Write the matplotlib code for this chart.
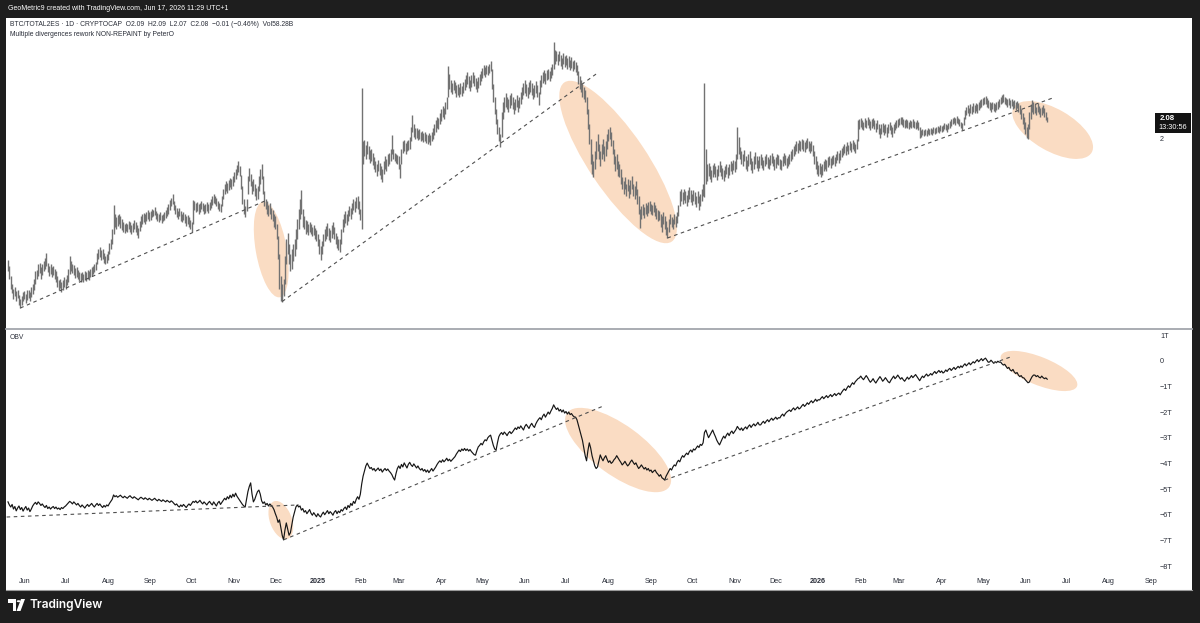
import numpy as np
import pandas as pd
import matplotlib
matplotlib.use("Agg")
import matplotlib.pyplot as plt
import matplotlib.dates as mdates
from matplotlib.patches import Ellipse, Rectangle, Polygon, Circle
from matplotlib.lines import Line2D
from matplotlib.transforms import ScaledTranslation, blended_transform_factory

plt.rcParams['font.family'] = ['Liberation Sans', 'DejaVu Sans']

# ---------------- data ----------------
start_date = "2024-05-20"          # first daily bar
last_close = 2.08
header_main = "BTC/TOTAL2ES \u00b7 1D \u00b7 CRYPTOCAP  O2.09  H2.09  L2.07  C2.08  \u22120.01 (\u22120.46%)  Vol58.28B"
header_ind = "Multiple divergences rework NON-REPAINT by PeterO"
title_bar = "GeoMetric9 created with TradingView.com, Jun 17, 2026 11:29 UTC+1"
countdown = "13:30:56"

# daily (low, high) of BTC/TOTAL2ES
bars_low_high = [
 (1.470,1.516),(1.440,1.490),(1.400,1.452),(1.385,1.420),(1.360,1.400),(1.372,1.410),(1.350,1.392),(1.362,1.398),(1.335,1.378),(1.324,1.360),
 (1.335,1.372),(1.350,1.388),(1.360,1.392),(1.345,1.380),(1.355,1.395),(1.365,1.398),(1.352,1.390),(1.368,1.410),(1.380,1.420),(1.395,1.440),
 (1.420,1.470),(1.440,1.476),(1.450,1.500),(1.462,1.504),(1.440,1.488),(1.456,1.498),(1.470,1.510),(1.480,1.522),(1.490,1.544),(1.466,1.505),
 (1.452,1.490),(1.460,1.498),(1.448,1.486),(1.455,1.492),(1.442,1.480),(1.430,1.470),(1.410,1.450),(1.395,1.436),(1.404,1.440),(1.390,1.430),
 (1.398,1.436),(1.408,1.446),(1.400,1.440),(1.415,1.455),(1.430,1.480),(1.460,1.532),(1.470,1.512),(1.462,1.500),(1.455,1.495),(1.445,1.485),
 (1.448,1.486),(1.440,1.476),(1.432,1.468),(1.428,1.462),(1.436,1.468),(1.430,1.460),(1.438,1.470),(1.432,1.466),(1.440,1.474),(1.436,1.470),
 (1.446,1.480),(1.450,1.486),(1.458,1.490),(1.468,1.500),(1.474,1.508),(1.500,1.545),(1.520,1.560),(1.526,1.566),(1.515,1.556),(1.520,1.560),
 (1.505,1.545),(1.498,1.532),(1.505,1.540),(1.516,1.552),(1.540,1.584),(1.560,1.600),(1.580,1.640),(1.620,1.736),(1.650,1.700),(1.640,1.688),
 (1.652,1.694),(1.660,1.700),(1.645,1.690),(1.636,1.680),(1.628,1.668),(1.624,1.660),(1.632,1.665),(1.628,1.660),(1.640,1.672),(1.630,1.668),
 (1.620,1.656),(1.628,1.664),(1.640,1.676),(1.630,1.668),(1.615,1.655),(1.604,1.645),(1.632,1.672),(1.650,1.690),(1.660,1.700),(1.668,1.704),
 (1.660,1.698),(1.672,1.708),(1.680,1.714),(1.670,1.706),(1.676,1.712),(1.686,1.718),(1.690,1.716),(1.694,1.728),(1.680,1.712),(1.672,1.704),
 (1.668,1.698),(1.676,1.706),(1.664,1.696),(1.670,1.700),(1.676,1.708),(1.684,1.716),(1.692,1.726),(1.700,1.740),(1.715,1.755),(1.730,1.764),
 (1.740,1.780),(1.716,1.752),(1.700,1.736),(1.688,1.724),(1.680,1.712),(1.690,1.722),(1.672,1.710),(1.666,1.700),(1.676,1.708),(1.664,1.698),
 (1.654,1.690),(1.660,1.694),(1.650,1.686),(1.640,1.676),(1.628,1.668),(1.660,1.756),(1.716,1.752),(1.706,1.742),(1.712,1.746),(1.700,1.738),
 (1.708,1.742),(1.718,1.750),(1.710,1.744),(1.700,1.736),(1.704,1.740),(1.712,1.746),(1.702,1.738),(1.714,1.748),(1.724,1.760),(1.736,1.770),
 (1.744,1.780),(1.738,1.772),(1.730,1.762),(1.720,1.752),(1.712,1.744),(1.706,1.740),(1.730,1.770),(1.760,1.800),(1.780,1.820),(1.790,1.830),
 (1.782,1.824),(1.796,1.836),(1.806,1.844),(1.800,1.840),(1.812,1.852),(1.826,1.866),(1.840,1.880),(1.856,1.896),(1.868,1.910),(1.850,1.892),
 (1.800,1.856),(1.740,1.810),(1.700,1.760),(1.688,1.730),(1.710,1.760),(1.780,1.850),(1.830,1.886),(1.810,1.860),(1.780,1.830),(1.790,1.840),
 (1.770,1.820),(1.756,1.804),(1.760,1.812),(1.790,1.850),(1.820,1.880),(1.840,1.898),(1.780,1.850),(1.730,1.790),(1.720,1.760),(1.700,1.750),
 (1.690,1.736),(1.700,1.744),(1.680,1.724),(1.670,1.716),(1.650,1.700),(1.640,1.690),(1.600,1.660),(1.520,1.610),(1.400,1.540),(1.350,1.450),
 (1.348,1.420),(1.370,1.440),(1.420,1.530),(1.500,1.600),(1.540,1.624),(1.500,1.580),(1.470,1.540),(1.480,1.560),(1.510,1.580),(1.530,1.600),
 (1.560,1.640),(1.600,1.680),(1.640,1.720),(1.680,1.760),(1.700,1.796),(1.650,1.720),(1.640,1.690),(1.620,1.676),(1.630,1.672),(1.616,1.660),
 (1.628,1.668),(1.620,1.660),(1.610,1.650),(1.616,1.656),(1.600,1.646),(1.590,1.636),(1.570,1.620),(1.540,1.600),(1.516,1.570),(1.540,1.590),
 (1.570,1.620),(1.590,1.640),(1.600,1.652),(1.610,1.664),(1.596,1.644),(1.588,1.636),(1.604,1.656),(1.620,1.666),(1.600,1.650),(1.580,1.624),
 (1.565,1.610),(1.555,1.600),(1.548,1.600),(1.580,1.640),(1.630,1.680),(1.650,1.700),(1.664,1.712),(1.656,1.700),(1.672,1.716),(1.690,1.730),
 (1.680,1.724),(1.700,1.744),(1.716,1.760),(1.706,1.750),(1.724,1.768),(1.720,1.772),(1.700,1.750),(1.676,1.720),(1.640,2.204),(1.900,1.990),
 (1.930,1.996),(1.920,1.976),(1.940,1.990),(1.920,1.970),(1.904,1.956),(1.910,1.960),(1.896,1.944),(1.880,1.928),(1.866,1.912),(1.850,1.900),
 (1.870,1.916),(1.856,1.904),(1.840,1.890),(1.828,1.880),(1.860,1.910),(1.880,1.930),(1.870,1.920),(1.890,1.940),(1.900,1.944),(1.910,1.960),
 (1.940,2.016),(1.920,1.960),(1.910,1.944),(1.904,1.940),(1.900,1.936),(1.880,1.930),(1.844,1.900),(1.900,1.960),(1.944,1.990),(1.950,1.996),
 (1.940,1.984),(1.950,1.990),(1.956,1.996),(1.960,2.010),(1.990,2.050),(2.030,2.096),(2.010,2.060),(2.000,2.046),(2.004,2.044),(1.996,2.036),
 (2.000,2.040),(1.990,2.030),(1.996,2.034),(1.986,2.026),(1.990,2.030),(1.984,2.022),(1.980,2.016),(1.986,2.024),(1.976,2.016),(1.990,2.030),
 (2.000,2.044),(2.016,2.060),(2.030,2.076),(2.044,2.090),(2.040,2.084),(2.060,2.104),(2.074,2.120),(2.090,2.134),(2.080,2.124),(2.100,2.148),
 (2.120,2.170),(2.170,2.292),(2.200,2.260),(2.190,2.236),(2.180,2.224),(2.196,2.236),(2.186,2.226),(2.170,2.216),(2.176,2.220),(2.168,2.210),
 (2.180,2.222),(2.172,2.214),(2.184,2.226),(2.196,2.240),(2.210,2.256),(2.220,2.266),(2.206,2.250),(2.194,2.236),(2.210,2.254),(2.224,2.268),
 (2.214,2.256),(2.200,2.244),(2.190,2.232),(2.204,2.246),(2.216,2.260),(2.230,2.270),(2.244,2.284),(2.256,2.294),(2.248,2.286),(2.260,2.296),
 (2.254,2.290),(2.264,2.300),(2.270,2.310),(2.200,2.280),(2.150,2.220),(2.100,2.170),(2.060,2.120),(2.020,2.080),(1.990,2.050),(1.968,2.020),
 (2.010,2.110),(2.080,2.150),(2.110,2.170),(2.130,2.184),(2.120,2.170),(2.110,2.160),(2.126,2.176),(2.136,2.184),(2.120,2.170),(2.100,2.150),
 (2.116,2.160),(2.130,2.176),(2.110,2.156),(2.124,2.170),(2.140,2.190),(2.160,2.210),(2.176,2.224),(2.186,2.236),(2.174,2.220),(2.164,2.210),
 (2.180,2.226),(2.190,2.236),(2.176,2.222),(2.160,2.206),(2.170,2.216),(2.184,2.230),(2.170,2.216),(2.136,2.190),(2.180,2.236),(2.210,2.256),
 (2.224,2.266),(2.230,2.276),(2.220,2.262),(2.234,2.276),(2.240,2.280),(2.230,2.270),(2.244,2.286),(2.256,2.300),(2.280,2.388),(2.300,2.356),
 (2.310,2.350),(2.296,2.340),(2.310,2.350),(2.290,2.334),(2.280,2.324),(2.300,2.344),(2.286,2.330),(2.296,2.336),(2.280,2.324),(2.288,2.330),
 (2.276,2.316),(2.284,2.326),(2.270,2.310),(2.278,2.316),(2.266,2.306),(2.254,2.296),(2.220,2.270),(2.200,2.250),(2.190,2.236),(2.170,2.220),
 (2.160,2.210),(2.148,2.196),(2.100,2.170),(2.040,2.120),(1.980,2.060),(1.900,2.000),(1.860,1.940),(1.848,1.910),(1.880,1.950),(1.920,1.990),
 (1.950,2.020),(1.920,1.980),(1.890,1.950),(1.920,1.980),(1.940,2.000),(1.910,1.970),(1.930,1.990),(1.960,2.020),(1.990,2.040),(2.000,2.048),
 (1.970,2.030),(1.940,1.996),(1.900,1.960),(1.870,1.930),(1.880,1.940),(1.850,1.910),(1.848,1.900),(1.820,1.880),(1.800,1.848),(1.780,1.830),
 (1.800,1.848),(1.770,1.820),(1.790,1.840),(1.764,1.816),(1.780,1.836),(1.800,1.850),(1.770,1.820),(1.760,1.810),(1.776,1.830),(1.740,1.800),
 (1.700,1.770),(1.644,1.720),(1.680,1.730),(1.696,1.740),(1.684,1.728),(1.700,1.744),(1.690,1.736),(1.704,1.746),(1.710,1.750),(1.700,1.740),
 (1.694,1.736),(1.706,1.748),(1.690,1.734),(1.680,1.724),(1.670,1.716),(1.676,1.712),(1.650,1.700),(1.630,1.690),(1.660,1.706),(1.640,1.690),
 (1.616,1.670),(1.604,1.650),(1.630,1.680),(1.660,1.700),(1.650,1.688),(1.640,1.680),(1.660,1.700),(1.650,1.690),(1.664,1.706),(1.690,1.736),
 (1.730,1.790),(1.750,1.800),(1.740,1.786),(1.756,1.800),(1.744,1.790),(1.730,1.776),(1.746,1.796),(1.760,1.808),(1.748,1.794),(1.736,1.780),
 (1.750,1.796),(1.740,1.786),(1.726,1.770),(1.744,1.790),(1.716,1.770),(1.730,1.780),(1.750,1.800),(1.770,1.820),(1.768,2.224),(1.820,1.960),
 (1.830,1.900),(1.850,1.904),(1.840,1.890),(1.826,1.876),(1.846,1.894),(1.860,1.904),(1.848,1.892),(1.836,1.880),(1.850,1.896),(1.866,1.910),
 (1.852,1.896),(1.840,1.884),(1.830,1.874),(1.846,1.890),(1.860,1.900),(1.844,1.888),(1.856,1.900),(1.870,1.912),(1.860,1.904),(1.874,1.916),
 (1.866,1.910),(1.880,1.940),(1.920,2.048),(1.940,2.010),(1.920,1.968),(1.900,1.950),(1.890,1.940),(1.910,1.956),(1.880,1.930),(1.870,1.916),
 (1.890,1.940),(1.900,1.950),(1.876,1.924),(1.864,1.910),(1.880,1.930),(1.900,1.946),(1.886,1.930),(1.870,1.916),(1.884,1.930),(1.896,1.940),
 (1.884,1.926),(1.876,1.916),(1.890,1.930),(1.900,1.940),(1.886,1.926),(1.880,1.920),(1.894,1.936),(1.904,1.944),(1.890,1.930),(1.878,1.918),
 (1.886,1.926),(1.900,1.940),(1.894,1.934),(1.880,1.920),(1.876,1.916),(1.890,1.930),(1.904,1.944),(1.896,1.936),(1.884,1.924),(1.890,1.930),
 (1.900,1.940),(1.910,1.950),(1.920,1.960),(1.930,1.972),(1.940,1.980),(1.950,1.990),(1.944,1.984),(1.956,1.996),(1.950,1.990),(1.960,2.000),
 (1.952,1.994),(1.946,1.986),(1.958,1.996),(1.964,2.004),(1.952,1.992),(1.944,1.984),(1.950,1.990),(1.930,1.976),(1.900,1.950),(1.880,1.930),
 (1.860,1.910),(1.850,1.896),(1.860,1.904),(1.848,1.892),(1.856,1.900),(1.870,1.912),(1.880,1.920),(1.872,1.916),(1.888,1.926),(1.896,1.932),
 (1.886,1.922),(1.894,1.930),(1.900,1.936),(1.890,1.928),(1.904,1.940),(1.914,1.950),(1.904,1.944),(1.916,1.954),(1.926,1.962),(1.936,1.972),
 (1.944,1.980),(1.934,1.970),(1.950,1.986),(1.940,1.976),(1.954,1.990),(1.946,1.982),(1.960,1.994),(1.950,1.986),(1.944,1.980),(1.960,2.000),
 (1.990,2.076),(2.040,2.080),(2.050,2.086),(2.040,2.076),(2.036,2.070),(2.050,2.084),(2.044,2.078),(2.056,2.090),(2.046,2.080),(2.036,2.072),
 (2.044,2.080),(2.052,2.086),(2.040,2.076),(2.030,2.066),(2.040,2.076),(2.020,2.060),(2.004,2.044),(2.020,2.060),(2.030,2.066),(2.016,2.056),
 (2.026,2.062),(2.010,2.050),(2.024,2.060),(2.036,2.070),(2.020,2.058),(2.010,2.048),(2.026,2.062),(2.036,2.068),(2.044,2.076),(2.050,2.080),
 (2.056,2.084),(2.060,2.088),(2.056,2.090),(2.050,2.080),(2.044,2.076),(2.050,2.080),(2.046,2.076),(2.040,2.070),(2.048,2.078),(2.044,2.074),
 (2.050,2.080),(2.044,2.074),(2.040,2.070),(2.046,2.076),(2.036,2.068),(2.004,2.050),(2.010,2.036),(2.016,2.040),(2.012,2.036),(2.018,2.042),
 (2.014,2.038),(2.020,2.044),(2.016,2.040),(2.022,2.046),(2.018,2.042),(2.024,2.048),(2.020,2.044),(2.026,2.050),(2.030,2.054),(2.026,2.050),
 (2.032,2.056),(2.028,2.052),(2.034,2.058),(2.040,2.064),(2.036,2.060),(2.030,2.056),(2.040,2.066),(2.046,2.072),(2.052,2.080),(2.060,2.086),
 (2.064,2.090),(2.058,2.084),(2.066,2.092),(2.060,2.086),(2.054,2.080),(2.044,2.070),(2.036,2.064),(2.056,2.090),(2.080,2.116),(2.096,2.130),
 (2.104,2.136),(2.094,2.126),(2.106,2.140),(2.100,2.134),(2.110,2.144),(2.104,2.138),(2.112,2.146),(2.106,2.140),(2.116,2.150),(2.124,2.156),
 (2.130,2.162),(2.136,2.166),(2.140,2.170),(2.140,2.174),(2.130,2.166),(2.124,2.156),(2.116,2.150),(2.110,2.144),(2.120,2.150),(2.114,2.146),
 (2.108,2.140),(2.116,2.148),(2.120,2.154),(2.130,2.160),(2.140,2.170),(2.146,2.176),(2.150,2.182),(2.140,2.170),(2.136,2.164),(2.130,2.160),
 (2.136,2.166),(2.126,2.156),(2.132,2.162),(2.120,2.152),(2.126,2.156),(2.116,2.148),(2.124,2.154),(2.110,2.144),(2.100,2.136),(2.080,2.120),
 (2.060,2.104),(2.040,2.090),(2.020,2.070),(2.004,2.050),(2.000,2.060),(2.040,2.110),(2.080,2.140),(2.110,2.156),(2.100,2.150),(2.104,2.140),
 (2.096,2.130),(2.110,2.144),(2.100,2.134),(2.088,2.124),(2.096,2.130),(2.104,2.136),(2.090,2.124),(2.078,2.110),(2.070,2.090),
]

# daily On-Balance-Volume, trillions
obv_t = [
 -5.50,-5.62,-5.70,-5.60,-5.78,-5.68,-5.85,-5.74,-5.66,-5.80,
 -5.72,-5.86,-5.76,-5.68,-5.82,-5.74,-5.88,-5.78,-5.66,-5.58,
 -5.52,-5.60,-5.50,-5.56,-5.64,-5.58,-5.66,-5.72,-5.64,-5.76,
 -5.70,-5.78,-5.72,-5.68,-5.76,-5.70,-5.78,-5.74,-5.80,-5.72,
 -5.76,-5.70,-5.66,-5.60,-5.54,-5.48,-5.52,-5.58,-5.50,-5.56,
 -5.62,-5.56,-5.64,-5.70,-5.62,-5.68,-5.74,-5.66,-5.60,-5.68,
 -5.62,-5.56,-5.64,-5.70,-5.62,-5.56,-5.64,-5.58,-5.66,-5.72,
 -5.64,-5.70,-5.62,-5.66,-5.56,-5.48,-5.40,-5.23,-5.30,-5.26,
 -5.32,-5.28,-5.24,-5.30,-5.34,-5.28,-5.32,-5.36,-5.30,-5.26,
 -5.32,-5.36,-5.30,-5.34,-5.38,-5.42,-5.36,-5.32,-5.36,-5.40,
 -5.34,-5.38,-5.42,-5.36,-5.40,-5.44,-5.40,-5.36,-5.42,-5.46,
 -5.40,-5.44,-5.48,-5.42,-5.46,-5.50,-5.44,-5.48,-5.52,-5.46,
 -5.50,-5.56,-5.62,-5.58,-5.66,-5.70,-5.62,-5.68,-5.60,-5.66,
 -5.72,-5.64,-5.58,-5.64,-5.56,-5.48,-5.52,-5.46,-5.54,-5.50,
 -5.44,-5.52,-5.58,-5.50,-5.56,-5.62,-5.54,-5.48,-5.56,-5.62,
 -5.50,-5.58,-5.66,-5.54,-5.48,-5.60,-5.52,-5.44,-5.36,-5.42,
 -5.30,-5.38,-5.24,-5.34,-5.20,-5.30,-5.16,-5.28,-5.36,-5.44,
 -5.52,-5.60,-5.66,-5.70,-5.40,-5.10,-4.90,-4.76,-5.20,-5.50,
 -5.40,-5.24,-5.10,-5.04,-5.20,-5.46,-5.56,-5.50,-5.62,-5.56,
 -5.66,-5.58,-5.64,-5.70,-5.80,-5.96,-6.10,-6.30,-6.20,-6.50,
 -6.80,-6.98,-6.60,-6.32,-6.56,-6.80,-6.70,-6.40,-6.10,-5.90,
 -5.70,-5.62,-5.70,-5.66,-5.82,-5.76,-5.90,-5.84,-5.96,-5.88,
 -5.80,-5.94,-6.02,-5.92,-6.00,-6.08,-5.96,-6.04,-6.09,-5.98,
 -5.90,-6.00,-5.92,-5.84,-5.96,-5.88,-5.94,-6.02,-5.90,-5.84,
 -5.96,-5.86,-5.92,-5.80,-5.86,-5.76,-5.70,-5.80,-5.64,-5.72,
 -5.56,-5.64,-5.48,-5.56,-5.40,-5.30,-5.40,-5.20,-4.80,-4.50,
 -4.30,-4.10,-3.99,-4.10,-4.20,-4.16,-4.26,-4.20,-4.30,-4.24,
 -4.18,-4.28,-4.22,-4.34,-4.26,-4.20,-4.28,-4.22,-4.30,-4.36,
 -4.44,-4.56,-4.65,-4.40,-4.20,-4.10,-4.20,-4.04,-4.14,-3.98,
 -4.08,-4.18,-4.04,-3.96,-4.06,-4.12,-4.02,-4.10,-4.18,-4.10,
 -4.20,-4.26,-4.20,-4.30,-4.24,-4.34,-4.26,-4.36,-4.28,-4.20,
 -4.30,-4.22,-4.14,-4.04,-3.96,-3.90,-3.96,-3.86,-3.94,-3.88,
 -3.80,-3.90,-3.84,-3.92,-3.86,-3.80,-3.74,-3.64,-3.56,-3.48,
 -3.54,-3.44,-3.50,-3.42,-3.50,-3.44,-3.52,-3.46,-3.54,-3.60,
 -3.66,-3.68,-3.50,-3.36,-3.30,-3.22,-3.28,-3.16,-3.08,-3.12,
 -3.00,-2.94,-2.90,-3.10,-3.30,-3.44,-3.48,-3.20,-2.96,-2.86,
 -2.80,-2.88,-2.78,-2.84,-2.92,-2.82,-2.76,-2.84,-2.78,-2.70,
 -2.62,-2.68,-2.58,-2.64,-2.54,-2.62,-2.70,-2.56,-2.48,-2.56,
 -2.64,-2.52,-2.44,-2.54,-2.60,-2.46,-2.36,-2.28,-2.22,-2.30,
 -2.16,-2.08,-2.20,-2.10,-2.00,-2.08,-1.96,-1.86,-1.72,-1.82,
 -1.90,-1.84,-1.96,-1.90,-2.00,-1.92,-2.04,-1.98,-2.08,-2.00,
 -2.10,-2.06,-2.14,-2.19,-2.20,-2.30,-2.50,-2.70,-2.90,-3.10,
 -3.40,-3.70,-3.90,-3.50,-3.20,-3.40,-3.70,-3.90,-4.10,-4.20,
 -4.14,-3.90,-3.67,-3.80,-3.90,-3.78,-3.70,-3.84,-3.96,-3.90,
 -4.00,-3.95,-3.86,-3.80,-3.70,-3.79,-3.88,-3.96,-4.06,-4.00,
 -3.92,-4.02,-4.10,-4.04,-3.94,-3.87,-3.96,-4.04,-3.98,-4.10,
 -4.20,-4.14,-4.06,-4.14,-4.22,-4.16,-4.26,-4.20,-4.30,-4.26,
 -4.36,-4.30,-4.26,-4.36,-4.42,-4.50,-4.44,-4.56,-4.60,-4.65,
 -4.50,-4.40,-4.30,-4.20,-4.26,-4.14,-4.06,-4.10,-3.96,-3.88,
 -3.94,-3.80,-3.70,-3.76,-3.67,-3.60,-3.66,-3.54,-3.48,-3.56,
 -3.44,-3.48,-3.40,-3.32,-3.38,-3.26,-3.30,-3.20,-2.80,-2.70,
 -2.86,-3.00,-2.90,-2.80,-2.70,-2.84,-2.96,-3.10,-3.20,-3.28,
 -3.16,-3.04,-2.94,-3.02,-2.90,-2.82,-2.92,-2.80,-2.74,-2.84,
 -2.76,-2.68,-2.56,-2.64,-2.70,-2.62,-2.72,-2.64,-2.58,-2.66,
 -2.56,-2.50,-2.60,-2.52,-2.46,-2.54,-2.48,-2.40,-2.50,-2.50,
 -2.42,-2.36,-2.44,-2.36,-2.30,-2.38,-2.30,-2.24,-2.32,-2.26,
 -2.20,-2.28,-2.22,-2.23,-2.14,-2.08,-2.16,-2.06,-2.00,-1.96,
 -1.92,-1.98,-1.90,-1.84,-1.92,-1.86,-1.80,-1.88,-1.84,-1.76,
 -1.70,-1.78,-1.72,-1.64,-1.70,-1.62,-1.56,-1.64,-1.58,-1.50,
 -1.58,-1.52,-1.53,-1.46,-1.40,-1.48,-1.42,-1.36,-1.44,-1.38,
 -1.32,-1.40,-1.34,-1.28,-1.36,-1.30,-1.26,-1.33,-1.24,-1.16,
 -1.10,-1.16,-1.06,-0.98,-1.04,-0.94,-0.86,-0.92,-0.82,-0.76,
 -0.70,-0.67,-0.60,-0.68,-0.74,-0.66,-0.58,-0.66,-0.76,-0.84,
 -0.78,-0.70,-0.80,-0.87,-0.78,-0.70,-0.62,-0.70,-0.80,-0.74,
 -0.66,-0.74,-0.82,-0.86,-0.76,-0.68,-0.60,-0.70,-0.64,-0.56,
 -0.64,-0.72,-0.66,-0.74,-0.80,-0.72,-0.64,-0.72,-0.66,-0.58,
 -0.66,-0.60,-0.54,-0.62,-0.70,-0.78,-0.68,-0.60,-0.66,-0.58,
 -0.52,-0.60,-0.56,-0.50,-0.56,-0.48,-0.42,-0.50,-0.44,-0.38,
 -0.46,-0.40,-0.48,-0.44,-0.36,-0.42,-0.34,-0.30,-0.38,-0.32,
 -0.26,-0.34,-0.28,-0.22,-0.28,-0.20,-0.26,-0.18,-0.12,-0.20,
 -0.14,-0.08,-0.16,-0.10,-0.04,-0.09,-0.02,0.04,-0.04,0.02,
 0.08,0.00,0.06,0.10,0.02,-0.06,-0.05,0.02,-0.04,-0.10,
 -0.04,-0.08,-0.02,-0.06,-0.05,-0.12,-0.17,-0.14,-0.22,-0.30,
 -0.26,-0.36,-0.40,-0.34,-0.44,-0.50,-0.46,-0.56,-0.62,-0.58,
 -0.66,-0.67,-0.74,-0.80,-0.86,-0.83,-0.72,-0.62,-0.56,-0.56,
 -0.62,-0.58,-0.64,-0.67,-0.60,-0.66,-0.70,-0.67,-0.72,
]

# trend lines drawn on the chart: (start date, value, end date, value)
price_trends = [("2024-05-29", 1.324, "2024-11-25", 1.756),
                ("2024-12-06", 1.350, "2025-07-24", 2.264),
                ("2025-09-13", 1.604, "2026-06-21", 2.164)]
obv_trends = [("2024-05-19", -6.09, "2024-12-18", -5.62),
              ("2024-12-07", -6.98, "2025-07-28", -1.77),
              ("2025-09-11", -4.65, "2026-05-21", 0.14)]
# highlight ellipses: (centre date, centre value)
price_marks = [("2024-11-28", 1.558), ("2025-08-08", 1.908), ("2026-06-21", 2.036)]
obv_marks = [("2024-12-05", -6.21), ("2025-08-08", -3.48), ("2026-06-11", -0.40)]
price_ticks = [2.0]
obv_ticks = [1, 0, -1, -2, -3, -4, -5, -6, -7, -8]
month_starts = pd.date_range("2024-06-01", "2026-09-01", freq="MS")

# ---------------- styling / layout ----------------
W, H = 1200, 623
BG = '#1e1e1e'
BAR = '#727272'
TXT = '#2a2e39'
PEACH = '#f5b27a'
DASH = '#4f4f4f'
SMALL = 4.9

fig = plt.figure(figsize=(W / 100, H / 100), dpi=100)
fig.patch.set_facecolor(BG)

def fx(x): return x / W
def fy(y): return 1 - y / H

# white chart area
fig.add_artist(Rectangle((fx(6), fy(590)), fx(1192) - fx(6), fy(18) - fy(590),
                         transform=fig.transFigure, facecolor='white', edgecolor='none', zorder=0))
# pane separator
fig.add_artist(Line2D([fx(6), fx(1192)], [fy(328.5), fy(328.5)], transform=fig.transFigure,
                      color='#a3a6ad', lw=1.3, zorder=5))
fig.add_artist(Line2D([fx(6), fx(1192)], [fy(590), fy(590)], transform=fig.transFigure,
                      color='#9a9a9a', lw=0.8, zorder=5))

ax_l, ax_r = 6, 1154
ax = fig.add_axes([fx(ax_l), fy(327), fx(ax_r) - fx(ax_l), fy(18) - fy(327)])
ax2 = fig.add_axes([fx(ax_l), fy(570), fx(ax_r) - fx(ax_l), fy(330) - fy(570)])
for a in (ax, ax2):
    a.set_facecolor('none')
    for s in a.spines.values():
        s.set_visible(False)

t0 = mdates.date2num(pd.Timestamp(start_date))
dates = pd.Timestamp(start_date) + pd.to_timedelta(np.arange(len(bars_low_high)), unit='D')
xb = mdates.date2num(dates)
lows = np.array([b[0] for b in bars_low_high])
highs = np.array([b[1] for b in bars_low_high])
dates_obv = pd.Timestamp(start_date) + pd.to_timedelta(np.arange(len(obv_t)), unit='D')
xo = mdates.date2num(dates_obv)

xlim = (t0 - 1.46, t0 + 835.9)
for a in (ax, ax2):
    a.set_xlim(*xlim)
ax.set_ylim(1.248, 2.484)
ax2.set_ylim(-8.154, 1.196)

# ellipses (sizes in pixels, in screen orientation)
def add_ellipse(a, date, val, w_px, h_px, ang):
    xn = mdates.date2num(pd.Timestamp(date))
    tr = fig.dpi_scale_trans + ScaledTranslation(xn, val, a.transData)
    e = Ellipse((0, 0), w_px / 100, h_px / 100, angle=ang, transform=tr,
                facecolor=PEACH, edgecolor='none', alpha=0.45, zorder=1)
    a.add_patch(e)

price_shapes = [(97, 31, -80), (192, 58, -56), (90, 42, -30)]
obv_shapes = [(40, 22, -70), (126, 50, -36), (82, 28, -22)]
for (d, v), (w, h, g) in zip(price_marks, price_shapes):
    add_ellipse(ax, d, v, w, h, g)
for (d, v), (w, h, g) in zip(obv_marks, obv_shapes):
    add_ellipse(ax2, d, v, w, h, g)

# price bars
ax.vlines(xb, lows, highs, color=BAR, lw=1.0, zorder=3)

# OBV line
ax2.plot(xo, obv_t, color='#161616', lw=0.85, zorder=3)

# trend lines
for a, trends in ((ax, price_trends), (ax2, obv_trends)):
    for d1, v1, d2, v2 in trends:
        a.plot(mdates.date2num([pd.Timestamp(d1), pd.Timestamp(d2)]), [v1, v2],
               color=DASH, lw=0.8, ls=(0, (3.2, 3.2)), zorder=4)

# y scales on the right
ax.yaxis.tick_right()
ax.set_yticks(price_ticks)
ax.set_yticklabels([f"{v:g}" for v in price_ticks])
ax.tick_params(axis='y', length=0, pad=4.3, labelsize=SMALL + 0.3, labelcolor=TXT)
ax.tick_params(axis='x', bottom=False, labelbottom=False)

ax2.yaxis.tick_right()
ax2.set_yticks(obv_ticks)
ax2.set_yticklabels([("0" if v == 0 else f"{v:d}T".replace('-', '\u2212')) for v in obv_ticks])
ax2.tick_params(axis='y', length=0, pad=4.3, labelsize=SMALL + 0.3, labelcolor=TXT)

# time axis
ax2.set_xticks(mdates.date2num(month_starts))
ax2.set_xticklabels([str(m.year) if m.month == 1 else m.strftime('%b') for m in month_starts])
ax2.tick_params(axis='x', length=0, pad=5.5, labelsize=SMALL + 0.3, labelcolor=TXT)
for lbl, m in zip(ax2.get_xticklabels(), month_starts):
    if m.month == 1:
        lbl.set_fontweight('bold')

# last price tag
bt = blended_transform_factory(ax.transAxes, ax.transData)
px_per_unit = (fy(18) - fy(327)) * H / (2.484 - 1.248)
tag_top = last_close + 6 / px_per_unit
tag_h = 20 / px_per_unit
ax.add_patch(Rectangle((1 + 1 / 1148, tag_top - tag_h), 36 / 1148, tag_h, transform=bt,
                       facecolor='#131313', edgecolor='none', clip_on=False, zorder=6))
ax.text(1 + 6 / 1148, last_close, f"{last_close:.2f}", transform=bt, color='white',
        fontsize=5.6, va='center', ha='left', fontweight='bold', clip_on=False, zorder=7)
ax.text(1 + 4 / 1148, last_close - 9 / px_per_unit, countdown, transform=bt, color='white',
        fontsize=5.3, va='center', ha='left', clip_on=False, zorder=7)

# headers
ax.text(4 / 1148, 1 - 7 / 309, header_main, transform=ax.transAxes, fontsize=SMALL,
        color=TXT, va='center', ha='left')
ax.text(4 / 1148, 1 - 17 / 309, header_ind, transform=ax.transAxes, fontsize=SMALL,
        color=TXT, va='center', ha='left')
ax2.text(4 / 1148, 1 - 8 / 240, "OBV", transform=ax2.transAxes, fontsize=SMALL,
         color=TXT, va='center', ha='left')

fig.text(fx(8), fy(9), title_bar, color='white', fontsize=5.0, va='center', ha='left')

# TradingView logo (bottom bar)
logo = [
    Polygon([(fx(8), fy(599)), (fx(16), fy(599)), (fx(16), fy(611)), (fx(12.5), fy(611)),
             (fx(12.5), fy(602.5)), (fx(8), fy(602.5))], closed=True),
    Polygon([(fx(21), fy(599)), (fx(25), fy(599)), (fx(20.5), fy(611)), (fx(16.5), fy(611))], closed=True),
]
for p in logo:
    p.set_transform(fig.transFigure)
    p.set_facecolor('white')
    p.set_edgecolor('none')
    fig.add_artist(p)
fig.add_artist(Circle((fx(18.6), fy(601.2)), 1.9 / W, transform=fig.transFigure,
                      facecolor='white', edgecolor='none'))
fig.text(fx(29), fy(605), "TradingView", color='white', fontsize=8.6, va='center', ha='left',
         family=['Inter', 'DejaVu Sans'], fontweight='semibold')

fig.savefig("out.png", dpi=100, facecolor=fig.get_facecolor())
